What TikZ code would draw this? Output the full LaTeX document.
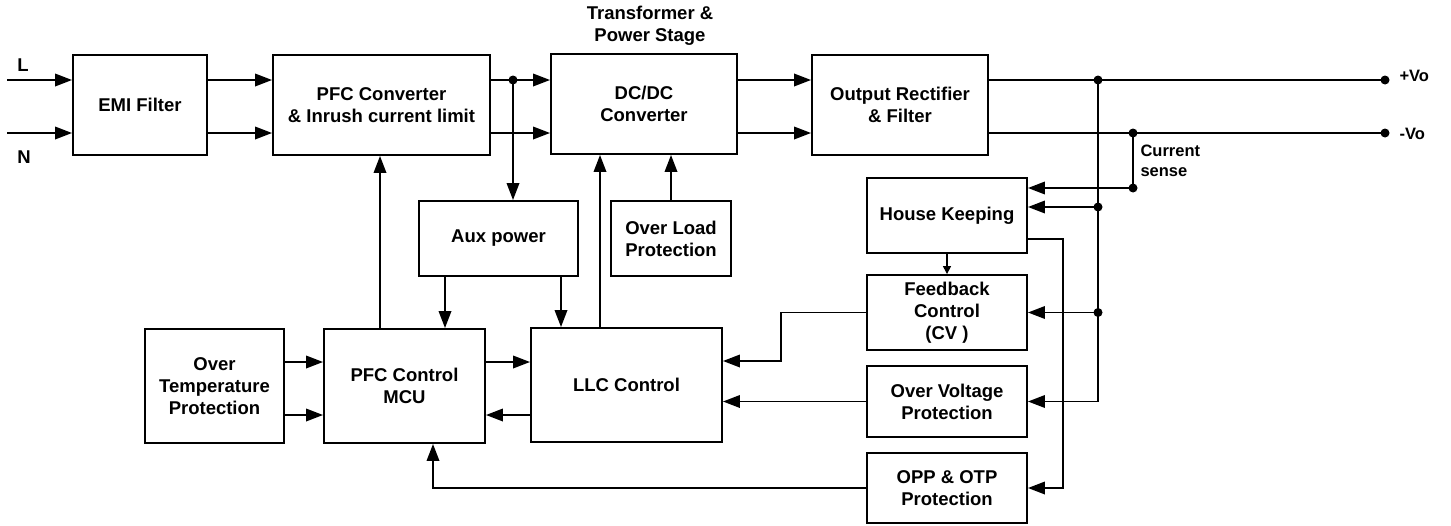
\documentclass[tikz,border=0pt]{standalone}
\usepackage{fontspec}
\setmainfont{Liberation Sans}
\usetikzlibrary{positioning}
\usetikzlibrary{calc}
\usetikzlibrary{arrows.meta}

\begin{document}
\begin{tikzpicture}[x=1pt, y=-1pt,
    blk/.style={draw, line width=1.9pt, align=center, inner sep=0pt,
        font=\bfseries\fontsize{18.5}{22}\selectfont},
    sig/.style={line width=1.9pt, -{Triangle[length=17pt, width=12.5pt]}},
    wire/.style={line width=1.9pt},
    lbl/.style={font=\bfseries\fontsize{16.5}{20}\selectfont, align=left}]
    \useasboundingbox (0,0) rectangle (1451,525);

    % Power path
    \node[blk, minimum width=134pt, minimum height=100pt] (emi) at (140,105) {EMI Filter};
    \node[blk, minimum width=217pt, minimum height=100pt] (pfcconv) at (381.5,105) {PFC Converter\\\& Inrush current limit};
    \node[blk, minimum width=186pt, minimum height=100pt] (dcdc) at (644,104) {DC/DC\\Converter};
    \node[blk, minimum width=176pt, minimum height=100pt] (outrect) at (900,105) {Output Rectifier\\\& Filter};
    \node[font=\bfseries\fontsize{18.5}{22}\selectfont, align=center] (tps) at (650,26) {Transformer \&\\Power Stage};

    % Control blocks
    \node[blk, minimum width=159pt, minimum height=75pt] (aux) at (498.5,238.5) {Aux power};
    \node[blk, minimum width=120pt, minimum height=75pt] (ovload) at (671,238.5) {Over Load\\Protection};
    \node[blk, minimum width=139pt, minimum height=114pt] (otp) at (214.5,386) {Over\\Temperature\\Protection};
    \node[blk, minimum width=161pt, minimum height=114pt] (pfcctrl) at (404.5,386) {PFC Control\\MCU};
    \node[blk, minimum width=191pt, minimum height=114pt] (llc) at (626.5,385) {LLC Control};

    % Secondary side blocks
    \node[blk, minimum width=160pt, minimum height=75pt] (hk) at (947,215.5) {House Keeping};
    \node[blk, minimum width=160pt, minimum height=75pt] (fb) at (947,312.5) {Feedback\\Control\\(CV )};
    \node[blk, minimum width=160pt, minimum height=71pt] (ovp) at (947,401.5) {Over Voltage\\Protection};
    \node[blk, minimum width=160pt, minimum height=70pt] (opp) at (947,488) {OPP \& OTP\\Protection};

    % Input lines L / N
    \coordinate (inL) at (7,80);
    \coordinate (inN) at (7,133);
    \node[font=\bfseries\fontsize{18.5}{22}\selectfont] (lL) at (23,65) {L};
    \node[font=\bfseries\fontsize{18.5}{22}\selectfont] (lN) at (24,157) {N};
    \draw[sig] (inL) -- (inL -| emi.west);
    \draw[sig] (inN) -- (inN -| emi.west);
    \draw[sig] (emi.east |- inL) -- (pfcconv.west |- inL);
    \draw[sig] (emi.east |- inN) -- (pfcconv.west |- inN);
    \draw[sig] (pfcconv.east |- inL) -- (dcdc.west |- inL);
    \draw[sig] (pfcconv.east |- inN) -- (dcdc.west |- inN);
    \draw[sig] (dcdc.east |- inL) -- (outrect.west |- inL);
    \draw[sig] (dcdc.east |- inN) -- (outrect.west |- inN);

    % Aux power tap
    \coordinate (jaux) at (513,80);
    \draw[sig] (jaux) -- (jaux |- aux.north);
    \fill (jaux) circle (4.5pt);

    % Outputs
    \coordinate (vop) at (1385,80);
    \coordinate (von) at (1385,133);
    \draw[wire] (outrect.east |- vop) -- (vop);
    \draw[wire] (outrect.east |- von) -- (von);
    \fill (vop) circle (4.5pt);
    \fill (von) circle (4.5pt);
    \node[lbl, anchor=west] (vplus) at (1396,76) {+Vo};
    \node[lbl, anchor=west] (vminus) at (1396,134) {-Vo};

    % Voltage sense
    \coordinate (jp) at (1098,80);
    \coordinate (jp1) at (1098,207);
    \coordinate (jp2) at (1098,312.5);
    \coordinate (jp3) at (1098,401.5);
    \draw[wire] (jp) -- (jp3);
    \draw[sig] (jp1) -- (jp1 -| hk.east);
    \draw[sig] (jp2) -- (jp2 -| fb.east);
    \draw[sig] (jp3) -- (jp3 -| ovp.east);
    \foreach \p in {jp, jp1, jp2} \fill (\p) circle (4.5pt);

    % Current sense
    \coordinate (jn) at (1133,133);
    \coordinate (jn1) at (1133,188);
    \draw[wire] (jn) -- (jn1);
    \draw[sig] (jn1) -- (jn1 -| hk.east);
    \fill (jn) circle (4.5pt);
    \fill (jn1) circle (4.5pt);
    \node[lbl, anchor=west] (cs) at (1137,161) {Current\\sense};

    % House keeping outputs
    \coordinate (hkout) at (1063,239);
    \draw[sig] (hkout -| hk.east) -- (hkout) |- (opp.east);
    \draw[line width=1.4pt, -{Triangle[length=8pt, width=8pt]}] (hk.south) -- (fb.north);

    % Feedback to LLC
    \coordinate (fbbend) at (781,361);
    \draw[sig] (fb.west) -| (fbbend) -- (fbbend -| llc.east);
    \draw[sig] (ovp.west) -- (ovp.west -| llc.east);

    % OPP to PFC control
    \coordinate (oppbend) at (433,488);
    \draw[sig] (opp.west) -- (oppbend) -- (oppbend |- pfcctrl.south);

    % Control links
    \coordinate (rowC) at (0,362);
    \coordinate (rowD) at (0,415);
    \draw[sig] (otp.east |- rowC) -- (pfcctrl.west |- rowC);
    \draw[sig] (otp.east |- rowD) -- (pfcctrl.west |- rowD);
    \draw[sig] (pfcctrl.east |- rowC) -- (llc.west |- rowC);
    \draw[sig] (llc.west |- rowD) -- (pfcctrl.east |- rowD);

    \coordinate (xpfc) at (380,0);
    \coordinate (xauxa) at (445,0);
    \coordinate (xauxb) at (561,0);
    \coordinate (xllc) at (600,0);
    \coordinate (xol) at (671,0);
    \draw[sig] (pfcctrl.north -| xpfc) -- (pfcconv.south -| xpfc);
    \draw[sig] (aux.south -| xauxa) -- (pfcctrl.north -| xauxa);
    \draw[sig] (aux.south -| xauxb) -- (llc.north -| xauxb);
    \draw[sig] (llc.north -| xllc) -- (dcdc.south -| xllc);
    \draw[sig] (ovload.north -| xol) -- (dcdc.south -| xol);
\end{tikzpicture}
\end{document}
